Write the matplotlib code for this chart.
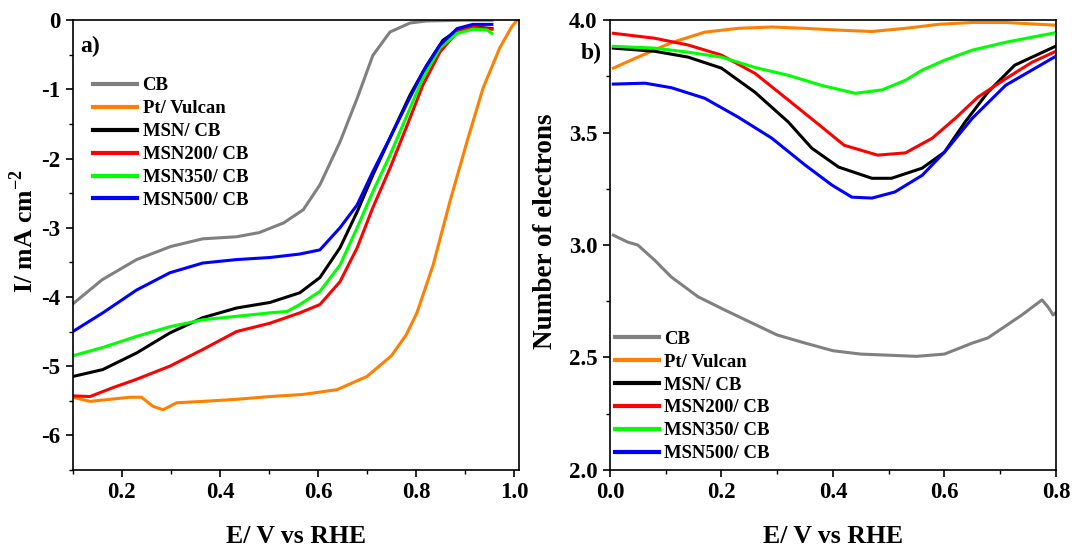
import matplotlib
matplotlib.use("Agg")
import matplotlib.pyplot as plt
from matplotlib.ticker import MultipleLocator

plt.rcParams['font.family'] = ['Liberation Serif', 'DejaVu Serif']
plt.rcParams['font.weight'] = 'bold'
plt.rcParams['mathtext.fontset'] = 'custom'
plt.rcParams['mathtext.rm'] = 'Liberation Serif:bold'
plt.rcParams['mathtext.bf'] = 'Liberation Serif:bold'

labels = ["CB", "Pt/ Vulcan", "MSN/ CB", "MSN200/ CB", "MSN350/ CB", "MSN500/ CB"]
colors = ["#808080", "#FF8000", "#000000", "#FF0000", "#00FF00", "#0000FF"]

# ---- panel a) LSV curves (E / V vs RHE, I / mA cm-2) ----
a_cb_x = [0.10, 0.16, 0.23, 0.30, 0.365, 0.434, 0.48, 0.53, 0.57, 0.604, 0.645, 0.68, 0.712, 0.747, 0.788, 0.822, 0.90, 0.955]
a_cb_y = [-4.10, -3.75, -3.46, -3.27, -3.16, -3.13, -3.07, -2.93, -2.74, -2.38, -1.76, -1.13, -0.51, -0.17, -0.04, -0.01, 0.0, 0.0]

a_pt_x = [0.10, 0.135, 0.176, 0.216, 0.24, 0.263, 0.284, 0.312, 0.365, 0.434, 0.502, 0.569, 0.639, 0.70, 0.75, 0.78, 0.802, 0.835, 0.869, 0.904, 0.937, 0.971, 0.995, 1.005]
a_pt_y = [-5.45, -5.51, -5.48, -5.45, -5.45, -5.58, -5.63, -5.53, -5.51, -5.48, -5.44, -5.41, -5.34, -5.15, -4.85, -4.55, -4.23, -3.54, -2.63, -1.76, -0.98, -0.40, -0.10, -0.01]

a_msn_x = [0.10, 0.161, 0.23, 0.298, 0.365, 0.434, 0.502, 0.563, 0.604, 0.645, 0.68, 0.712, 0.753, 0.788, 0.822, 0.855, 0.89, 0.924, 0.955]
a_msn_y = [-5.15, -5.05, -4.81, -4.52, -4.30, -4.16, -4.08, -3.94, -3.72, -3.29, -2.77, -2.24, -1.61, -1.08, -0.65, -0.29, -0.12, -0.10, -0.12]

a_200_x = [0.10, 0.135, 0.182, 0.23, 0.298, 0.365, 0.434, 0.502, 0.563, 0.604, 0.645, 0.68, 0.712, 0.747, 0.782, 0.814, 0.849, 0.884, 0.916, 0.955]
a_200_y = [-5.43, -5.44, -5.31, -5.19, -5.00, -4.76, -4.50, -4.38, -4.23, -4.11, -3.78, -3.29, -2.71, -2.14, -1.52, -0.94, -0.46, -0.17, -0.10, -0.13]

a_350_x = [0.10, 0.161, 0.23, 0.298, 0.365, 0.434, 0.502, 0.537, 0.563, 0.604, 0.645, 0.68, 0.712, 0.747, 0.782, 0.814, 0.849, 0.884, 0.916, 0.945, 0.955]
a_350_y = [-4.85, -4.73, -4.57, -4.43, -4.33, -4.28, -4.23, -4.21, -4.11, -3.92, -3.54, -3.00, -2.48, -1.95, -1.37, -0.84, -0.40, -0.19, -0.13, -0.14, -0.19]

a_500_x = [0.10, 0.161, 0.23, 0.298, 0.365, 0.434, 0.502, 0.563, 0.604, 0.645, 0.68, 0.712, 0.747, 0.782, 0.814, 0.849, 0.884, 0.916, 0.955]
a_500_y = [-4.50, -4.23, -3.90, -3.65, -3.51, -3.46, -3.43, -3.38, -3.32, -3.00, -2.67, -2.19, -1.70, -1.20, -0.75, -0.36, -0.12, -0.06, -0.06]

# ---- panel b) number of electrons ----
b_cb_x = [0.006, 0.032, 0.05, 0.08, 0.11, 0.158, 0.206, 0.255, 0.30, 0.35, 0.40, 0.45, 0.50, 0.55, 0.60, 0.65, 0.678, 0.739, 0.775, 0.786, 0.795, 0.80]
b_cb_y = [3.044, 3.013, 3.000, 2.933, 2.858, 2.770, 2.711, 2.653, 2.600, 2.564, 2.530, 2.515, 2.510, 2.505, 2.515, 2.564, 2.587, 2.689, 2.756, 2.724, 2.689, 2.70]

b_pt_x = [0.006, 0.05, 0.11, 0.17, 0.23, 0.29, 0.35, 0.41, 0.47, 0.53, 0.59, 0.65, 0.71, 0.80]
b_pt_y = [3.787, 3.836, 3.900, 3.947, 3.964, 3.970, 3.964, 3.956, 3.950, 3.964, 3.982, 3.990, 3.990, 3.978]

b_msn_x = [0.006, 0.08, 0.14, 0.20, 0.26, 0.32, 0.362, 0.41, 0.47, 0.505, 0.56, 0.60, 0.637, 0.678, 0.726, 0.80]
b_msn_y = [3.876, 3.862, 3.836, 3.787, 3.680, 3.547, 3.431, 3.347, 3.297, 3.297, 3.342, 3.413, 3.547, 3.680, 3.800, 3.885]

b_200_x = [0.006, 0.08, 0.14, 0.20, 0.26, 0.32, 0.38, 0.42, 0.48, 0.53, 0.578, 0.62, 0.66, 0.71, 0.757, 0.80]
b_200_y = [3.942, 3.920, 3.890, 3.845, 3.764, 3.645, 3.525, 3.444, 3.400, 3.410, 3.475, 3.565, 3.658, 3.740, 3.813, 3.862]

b_350_x = [0.006, 0.08, 0.14, 0.20, 0.26, 0.32, 0.38, 0.44, 0.488, 0.53, 0.56, 0.60, 0.65, 0.71, 0.80]
b_350_y = [3.884, 3.876, 3.858, 3.836, 3.790, 3.755, 3.710, 3.675, 3.690, 3.733, 3.778, 3.822, 3.867, 3.902, 3.945]

b_500_x = [0.006, 0.063, 0.11, 0.17, 0.23, 0.29, 0.35, 0.398, 0.434, 0.47, 0.511, 0.56, 0.60, 0.65, 0.71, 0.80]
b_500_y = [3.716, 3.720, 3.700, 3.653, 3.569, 3.476, 3.356, 3.267, 3.213, 3.209, 3.236, 3.310, 3.413, 3.564, 3.711, 3.840]

fig = plt.figure(figsize=(10.72, 5.47), dpi=100)
ax1 = fig.add_axes([0.068, 0.141, 0.416, 0.822])
ax2 = fig.add_axes([0.569, 0.141, 0.416, 0.822])

a_series = [(a_cb_x, a_cb_y), (a_pt_x, a_pt_y), (a_msn_x, a_msn_y),
            (a_200_x, a_200_y), (a_350_x, a_350_y), (a_500_x, a_500_y)]
for (xs, ys), lab, c in zip(a_series, labels, colors):
    ax1.plot(xs, ys, color=c, lw=2.2, label=lab, solid_joinstyle='round')

b_series = [(b_cb_x, b_cb_y), (b_pt_x, b_pt_y), (b_msn_x, b_msn_y),
            (b_200_x, b_200_y), (b_350_x, b_350_y), (b_500_x, b_500_y)]
for (xs, ys), lab, c in zip(b_series, labels, colors):
    ax2.plot(xs, ys, color=c, lw=2.2, label=lab, solid_joinstyle='round')

ax1.set_xlim(0.1, 1.01)
ax1.set_ylim(-6.5, 0)
ax1.xaxis.set_minor_locator(MultipleLocator(0.1))
ax1.yaxis.set_minor_locator(MultipleLocator(0.5))
ax1.set_xticks([0.2, 0.4, 0.6, 0.8, 1.0])
ax1.set_xticklabels(["0.2", "0.4", "0.6", "0.8", "1.0"])
ax1.set_yticks([0, -1, -2, -3, -4, -5, -6])
ax1.set_yticklabels(["0", "-1", "-2", "-3", "-4", "-5", "-6"])
ax1.set_xlabel("E/ V vs RHE", fontsize=18.5, fontweight='bold')
ax1.set_ylabel(r"I/ mA cm$^{-2}$", fontsize=18.5, fontweight='bold')
ax1.xaxis.set_label_coords(0.5, -0.122)
ax1.yaxis.set_label_coords(-0.078, 0.53)

ax2.set_xlim(0, 0.8)
ax2.set_ylim(2.0, 4.0)
ax2.xaxis.set_minor_locator(MultipleLocator(0.1))
ax2.yaxis.set_minor_locator(MultipleLocator(0.25))
ax2.set_xticks([0.0, 0.2, 0.4, 0.6, 0.8])
ax2.set_xticklabels(["0.0", "0.2", "0.4", "0.6", "0.8"])
ax2.set_yticks([2.0, 2.5, 3.0, 3.5, 4.0])
ax2.set_yticklabels(["2.0", "2.5", "3.0", "3.5", "4.0"])
ax2.set_xlabel("E/ V vs RHE", fontsize=18.5, fontweight='bold')
ax2.set_ylabel("Number of electrons", fontsize=19.5, fontweight='bold')
ax2.xaxis.set_label_coords(0.5, -0.122)
ax2.yaxis.set_label_coords(-0.117, 0.53)

for ax in (ax1, ax2):
    ax.tick_params(which='major', direction='out', length=5, width=1.2, labelsize=16.5, pad=4)
    ax.tick_params(which='minor', direction='out', length=3, width=1.0)
    ax.tick_params(top=False, right=False, which='both')
    for s in ax.spines.values():
        s.set_linewidth(1.2)
    for lbl in ax.get_xticklabels() + ax.get_yticklabels():
        lbl.set_fontweight('bold')

leg1 = ax1.legend(loc='upper left', bbox_to_anchor=(0.028, 0.89), frameon=False,
                  fontsize=13.5, handlelength=2.35, handletextpad=0.3, labelspacing=0.31,
                  borderaxespad=0)
leg2 = ax2.legend(loc='lower left', bbox_to_anchor=(-0.006, 0.0), frameon=False,
                  fontsize=13.5, handlelength=2.35, handletextpad=0.3, labelspacing=0.31,
                  borderaxespad=0)
for leg in (leg1, leg2):
    for t in leg.get_texts():
        t.set_fontweight('bold')
    for l in leg.get_lines():
        l.set_linewidth(3)

ax1.text(0.017, 0.965, "a)", transform=ax1.transAxes, fontsize=17, fontweight='bold',
         ha='left', va='top')
fig.text(581 / 1072, 1 - 53 / 547, "b)", fontsize=17, fontweight='bold',
         ha='left', va='center')

fig.savefig("out.png", dpi=100)
